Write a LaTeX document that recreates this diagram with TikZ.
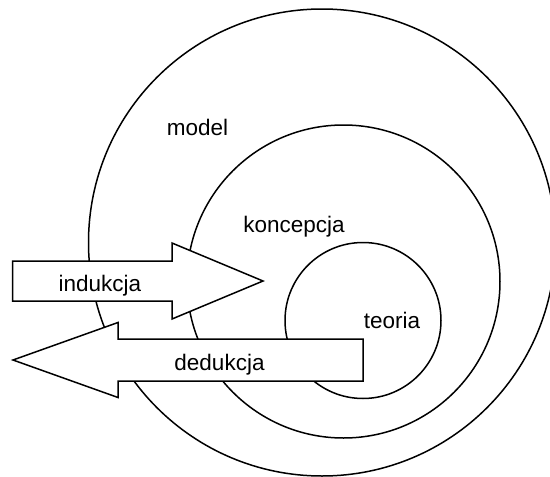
\documentclass[tikz,border=0pt]{standalone}
\usepackage{fontspec}
\setmainfont{Liberation Sans}
\begin{document}
\begin{tikzpicture}[x=1pt,y=-1pt,
  ring/.style={draw=black,line width=1.5pt},
  bigarrow/.style={draw=black,fill=white,line width=1.5pt,line join=miter},
  label/.style={font=\fontsize{22.5}{27}\selectfont,anchor=base,inner sep=0pt}]
  \useasboundingbox (0,0) rectangle (550,477);
  \begin{scope}
    \clip (0,0) rectangle (550,477);
    % nested circles
    \draw[ring] (322,242.5) circle[radius=233.5];
    \draw[ring] (343.5,281.5) circle[radius=156.5];
    \draw[ring] (363,320.5) circle[radius=78];
  \end{scope}
  % induction arrow pointing right
  \draw[bigarrow] (12.7,261) -- (172,261) -- (172,243) -- (263,281)
    -- (172,319) -- (172,301) -- (12.7,301) -- cycle;
  % deduction arrow pointing left
  \draw[bigarrow] (363,339) -- (118,339) -- (118,322.5) -- (13,360)
    -- (118,397.5) -- (118,381) -- (363,381) -- cycle;
  % labels
  \node[label] (model) at (197.5,135) {model};
  \node[label] (koncepcja) at (294,232) {koncepcja};
  \node[label] (teoria) at (392,328) {teoria};
  \node[label] (indukcja) at (100,291) {indukcja};
  \node[label] (dedukcja) at (219.5,370) {dedukcja};
\end{tikzpicture}
\end{document}
